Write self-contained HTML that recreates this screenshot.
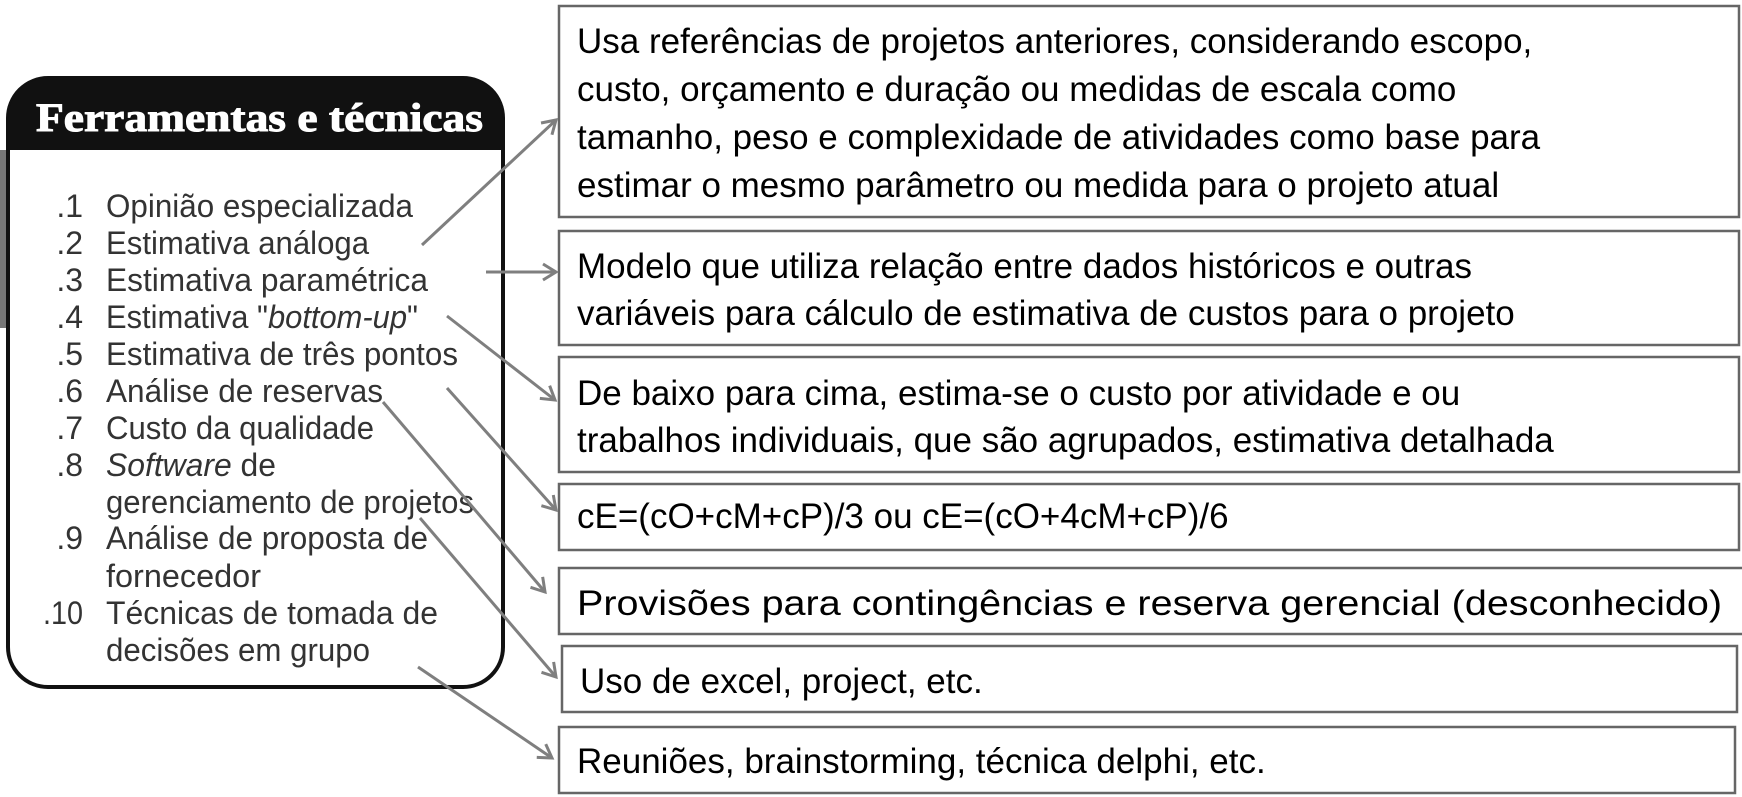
<!DOCTYPE html>
<html><head><meta charset="utf-8"><style>
html,body{margin:0;padding:0;background:#fff;}
svg{display:block;}
</style></head><body>
<svg width="1742" height="797" viewBox="0 0 1742 797" xmlns="http://www.w3.org/2000/svg">
<defs>
<marker id="ah" markerWidth="20" markerHeight="20" refX="15" refY="10" orient="auto" markerUnits="userSpaceOnUse">
<path d="M2,2 L15,10 L2,18" fill="none" stroke="#7f7f7f" stroke-width="3"/>
</marker>
</defs>
<rect x="0" y="150" width="10" height="178" fill="#777"/>
<path d="M8,118 A40,40 0 0 1 48,78 L463,78 A40,40 0 0 1 503,118 L503,647 A40,40 0 0 1 463,687 L48,687 A40,40 0 0 1 8,647 Z" fill="#fff" stroke="#111" stroke-width="4"/>
<path d="M8,118 A40,40 0 0 1 48,78 L463,78 A40,40 0 0 1 503,118 L503,150 L8,150 Z" fill="#111"/>
<text x="36" y="131" font-family="Liberation Serif, serif" font-weight="bold" font-size="40" fill="#fff" stroke="#fff" stroke-width="1" textLength="447" lengthAdjust="spacingAndGlyphs">Ferramentas e técnicas</text>
<g font-family="Liberation Sans, sans-serif" font-size="32" fill="#333">
<g text-anchor="end">
<text x="83" y="217">.1</text>
<text x="83" y="254">.2</text>
<text x="83" y="291">.3</text>
<text x="83" y="328">.4</text>
<text x="83" y="365">.5</text>
<text x="83" y="402">.6</text>
<text x="83" y="439">.7</text>
<text x="83" y="476">.8</text>
<text x="83" y="549">.9</text>
<text x="83" y="624" textLength="40" lengthAdjust="spacingAndGlyphs">.10</text>
</g>
<text x="106" y="217" textLength="307" lengthAdjust="spacingAndGlyphs">Opinião especializada</text>
<text x="106" y="254" textLength="263" lengthAdjust="spacingAndGlyphs">Estimativa análoga</text>
<text x="106" y="291" textLength="322" lengthAdjust="spacingAndGlyphs">Estimativa paramétrica</text>
<text x="106" y="328" textLength="312" lengthAdjust="spacingAndGlyphs">Estimativa "<tspan font-style="italic">bottom-up</tspan>"</text>
<text x="106" y="365" textLength="352" lengthAdjust="spacingAndGlyphs">Estimativa de três pontos</text>
<text x="106" y="402" textLength="277" lengthAdjust="spacingAndGlyphs">Análise de reservas</text>
<text x="106" y="439" textLength="268" lengthAdjust="spacingAndGlyphs">Custo da qualidade</text>
<text x="106" y="476" textLength="170" lengthAdjust="spacingAndGlyphs"><tspan font-style="italic">Software</tspan> de</text>
<text x="106" y="513" textLength="368" lengthAdjust="spacingAndGlyphs">gerenciamento de projetos</text>
<text x="106" y="549" textLength="322" lengthAdjust="spacingAndGlyphs">Análise de proposta de</text>
<text x="106" y="587" textLength="155" lengthAdjust="spacingAndGlyphs">fornecedor</text>
<text x="106" y="624" textLength="332" lengthAdjust="spacingAndGlyphs">Técnicas de tomada de</text>
<text x="106" y="661" textLength="264" lengthAdjust="spacingAndGlyphs">decisões em grupo</text>
</g>
<g fill="#fff" stroke="#666" stroke-width="2.5">
<rect x="559" y="6" width="1180" height="211"/>
<rect x="559" y="231" width="1180" height="114"/>
<rect x="559" y="357" width="1180" height="115"/>
<rect x="559" y="484" width="1180" height="66"/>
<rect x="559" y="568" width="1190" height="66"/>
<rect x="562" y="646" width="1175" height="66"/>
<rect x="559" y="727" width="1176" height="66"/>
</g>
<g font-family="Liberation Sans, Arial, sans-serif" font-size="35" fill="#000">
<text x="577" y="53">Usa referências de projetos anteriores, considerando escopo,</text>
<text x="577" y="101">custo, orçamento e duração ou medidas de escala como</text>
<text x="577" y="149">tamanho, peso e complexidade de atividades como base para</text>
<text x="577" y="197">estimar o mesmo parâmetro ou medida para o projeto atual</text>
<text x="577" y="278">Modelo que utiliza relação entre dados históricos e outras</text>
<text x="577" y="325">variáveis para cálculo de estimativa de custos para o projeto</text>
<text x="577" y="405">De baixo para cima, estima-se o custo por atividade e ou</text>
<text x="577" y="452">trabalhos individuais, que são agrupados, estimativa detalhada</text>
<text x="577" y="528">cE=(cO+cM+cP)/3 ou cE=(cO+4cM+cP)/6</text>
<text x="577" y="615" textLength="1145" lengthAdjust="spacingAndGlyphs">Provisões para contingências e reserva gerencial (desconhecido)</text>
<text x="580" y="693">Uso de excel, project, etc.</text>
<text x="577" y="773">Reuniões, brainstorming, técnica delphi, etc.</text>
</g>
<g stroke="#7f7f7f" stroke-width="3" fill="none" marker-end="url(#ah)">
<line x1="422" y1="245" x2="556" y2="120"/>
<line x1="486" y1="272" x2="556" y2="272"/>
<line x1="447" y1="316" x2="555" y2="400"/>
<line x1="447" y1="388" x2="556" y2="510"/>
<line x1="383" y1="402" x2="545" y2="592"/>
<line x1="420" y1="518" x2="556" y2="677"/>
<line x1="418" y1="667" x2="552" y2="758"/>
</g>
</svg>
</body></html>
